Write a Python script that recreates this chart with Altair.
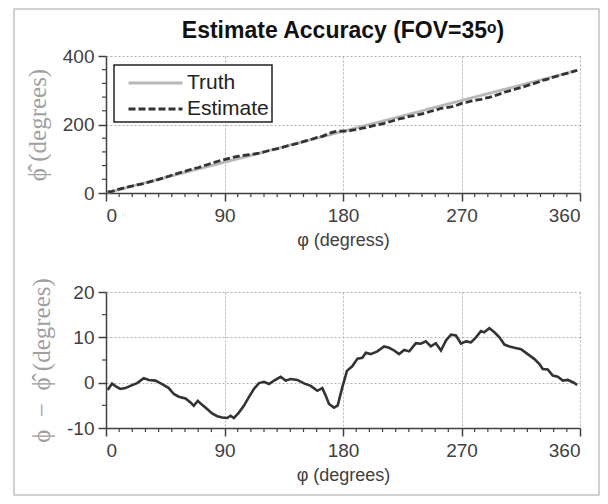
import altair as alt
import pandas as pd

# ---------------- data ----------------
phi = [1.3, 4.6, 8.4, 10.9, 14.7, 18.5, 23.6, 28.7, 32.5, 37.5, 42.6, 47.7, 51.5, 55.3,
       60.4, 64.2, 66.7, 69.7, 73.0, 76.8, 80.6, 84.5, 88.3, 92.1, 94.6, 97.1, 100.9,
       104.7, 108.5, 112.3, 116.2, 120.0, 123.8, 127.6, 132.6, 136.4, 140.2, 145.3,
       150.4, 155.5, 160.5, 164.3, 166.9, 169.4, 173.2, 176.0, 179.5, 183.0, 187.0,
       191.0, 194.7, 197.3, 201.0, 206.1, 211.2, 215.0, 218.8, 222.6, 226.5, 230.3,
       235.4, 239.1, 242.9, 246.7, 250.5, 254.4, 258.2, 262.0, 265.8, 269.6, 273.4,
       277.2, 281.0, 284.8, 287.3, 291.1, 295.0, 298.8, 302.6, 306.4, 310.2, 315.2,
       320.3, 325.4, 329.2, 331.7, 335.5, 339.3, 343.1, 347.0, 350.8, 354.6, 357.9]
err = [-1.6, -0.2, -1.0, -1.4, -1.2, -0.7, -0.1, 1.0, 0.6, 0.45, -0.3, -1.2, -2.5, -3.1,
       -3.5, -4.35, -5.1, -4.0, -4.9, -5.8, -6.8, -7.4, -7.7, -7.8, -7.3, -7.8, -6.6,
       -5.1, -3.2, -1.4, -0.1, 0.2, -0.3, 0.45, 1.3, 0.45, 0.8, 0.6,
       -0.15, -0.7, -1.8, -1.2, -2.9, -4.7, -5.5, -5.0, -1.0, 2.6, 3.6,
       5.3, 5.5, 6.6, 6.3, 6.9, 8.0, 7.7, 7.1, 6.3, 7.2, 6.9,
       8.7, 8.6, 9.1, 8.0, 8.7, 7.1, 9.3, 10.6, 10.4, 8.6, 9.1,
       8.9, 10.0, 11.4, 11.1, 12.0, 11.1, 10.0, 8.4, 8.0, 7.7, 7.4,
       6.3, 5.2, 4.1, 3.0, 2.9, 1.55, 1.3, 0.45, 0.6, 0.1, -0.5]

series_names = ["Truth", "Estimate"]
title_text = ["Estimate Accuracy (FOV=35ᵒ)"]
x_major = [0, 90, 180, 270, 360]
x_minor = [10, 20, 30, 40, 50, 60, 70, 80, 100, 110, 120, 130, 140, 150, 160, 170,
           190, 200, 210, 220, 230, 240, 250, 260, 280, 290, 300, 310, 320, 330, 340, 350]
y1_major = [0, 200, 400]
y1_minor = [40, 80, 120, 160, 240, 280, 320, 360]
y2_major = [-10, 0, 10, 20]
y2_minor = [-5, 5, 15]

# ---------------- styling ----------------
W, H1, H2 = 474, 137, 136
SANS = "Liberation Sans"
SERIF = "Liberation Serif"
AX = "#404040"
GRID = "#b0b0b0"

truth_df = pd.DataFrame({"phi": phi, "val": phi, "series": series_names[0]})
est_df = pd.DataFrame({"phi": phi, "val": [p - e for p, e in zip(phi, err)],
                       "series": series_names[1]})
err_df = pd.DataFrame({"phi": phi, "err": err})

xscale = alt.Scale(domain=[0, 360], nice=False, zero=False)
y1scale = alt.Scale(domain=[0, 400], nice=False)
y2scale = alt.Scale(domain=[-10, 20], nice=False, zero=False)

LABEL_EXPR = "datum.value < 0 ? '-' + abs(datum.value) : '' + datum.value"


def xaxis(title):
    return alt.Axis(values=x_major, title=title, grid=True, gridDash=[2, 2],
                    gridColor=GRID, gridWidth=1, domainColor=AX, domainWidth=1.5,
                    tickColor=AX, tickWidth=1.5, tickSize=8, labelFont=SANS,
                    labelFontSize=19, labelColor=AX, labelPadding=5,
                    labelExpr=LABEL_EXPR, titleFont=SANS, titleFontSize=18,
                    titleFontWeight="normal", titleColor=AX, titlePadding=6)


def yaxis(title, values):
    return alt.Axis(values=values, title=title, grid=True, gridDash=[2, 2],
                    gridColor=GRID, gridWidth=1, domainColor=AX, domainWidth=1.5,
                    tickColor=AX, tickWidth=1.5, tickSize=8, labelFont=SANS,
                    labelFontSize=19, labelColor=AX, labelPadding=4,
                    labelExpr=LABEL_EXPR, titleFont=SERIF, titleFontSize=25,
                    titleFontWeight="normal", titleColor="#a0a0a0", titlePadding=12)


def minor_x(h, scale, axis):
    return alt.Chart(pd.DataFrame({"t": x_minor})).mark_rule(
        color=AX, strokeWidth=1.2).encode(
        x=alt.X("t:Q", scale=scale, axis=axis),
        y=alt.value(h), y2=alt.value(h + 4))


def minor_y(vals, scale, axis):
    return alt.Chart(pd.DataFrame({"t": vals})).mark_rule(
        color=AX, strokeWidth=1.2).encode(
        y=alt.Y("t:Q", scale=scale, axis=axis),
        x=alt.value(0), x2=alt.value(-4))


color_scale = alt.Scale(domain=series_names, range=["#b8b8b8", "#333333"])
dash_scale = alt.Scale(domain=series_names, range=[[1, 0], [7, 3]])
legend = alt.Legend(title=None, orient="none", legendX=8, legendY=9,
                    strokeColor="#222222", fillColor="white", padding=3,
                    labelFont=SANS, labelFontSize=21, labelColor="#222222",
                    symbolType="M-2,0H2", symbolSize=729, symbolStrokeWidth=3,
                    symbolOffset=23.5, rowPadding=1, labelOffset=16.5, offset=0)

top_x_axis = xaxis("φ (degress)")
top_y_axis = yaxis("ϕ̂ (degrees)", y1_major)
bot_x_axis = xaxis("φ (degrees)")
bot_y_axis = yaxis("ϕ\u2002−\u2002ϕ̂ (degrees)", y2_major)


def line_layer(df):
    return alt.Chart(df).mark_line(strokeWidth=2.8).encode(
        x=alt.X("phi:Q", scale=xscale, axis=top_x_axis),
        y=alt.Y("val:Q", scale=y1scale, axis=top_y_axis),
        color=alt.Color("series:N", scale=color_scale, legend=legend),
        strokeDash=alt.StrokeDash("series:N", scale=dash_scale, legend=legend),
    )


one_row = pd.DataFrame({"label": title_text})

border = alt.Chart(one_row).mark_rect(
    fillOpacity=0, stroke="#c4c4c4", strokeWidth=1.5).encode(
    x=alt.value(-92), x2=alt.value(493), y=alt.value(-47), y2=alt.value(439))

title_mark = alt.Chart(one_row).mark_text(
    font=SANS, fontSize=23, fontWeight="bold", color="#111111",
    align="center", baseline="middle").encode(
    x=alt.value(W / 2), y=alt.value(-25), text="label:N")

top = alt.layer(
    line_layer(truth_df),
    line_layer(est_df),
    minor_x(H1, xscale, top_x_axis),
    minor_y(y1_minor, y1scale, top_y_axis),
    border,
    title_mark,
).properties(width=W, height=H1)

bottom = alt.layer(
    alt.Chart(err_df).mark_line(color="#333333", strokeWidth=2.6).encode(
        x=alt.X("phi:Q", scale=xscale, axis=bot_x_axis),
        y=alt.Y("err:Q", scale=y2scale, axis=bot_y_axis),
    ),
    minor_x(H2, xscale, bot_x_axis),
    minor_y(y2_minor, y2scale, bot_y_axis),
).properties(width=W, height=H2)

chart = alt.vconcat(top, bottom, spacing=99, bounds="flush").properties(
    padding={"left": 5, "top": 0, "right": 0, "bottom": 0},
    background="white",
).configure_view(strokeWidth=0).configure_legend(strokeWidth=1.5)

chart.save("out.html", embed_options={"renderer": "svg", "actions": False})
